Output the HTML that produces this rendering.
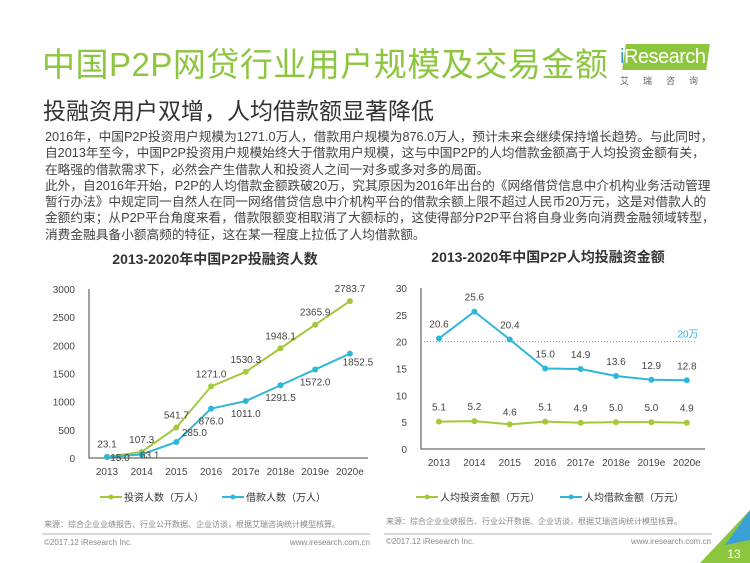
<!DOCTYPE html>
<html><head><meta charset="utf-8">
<style>
body{margin:0;width:750px;height:563px;background:#fff;overflow:hidden;position:relative;font-family:"Liberation Sans","Noto Sans CJK SC",sans-serif;}
.abs{position:absolute;}
#title{left:42px;top:38px;font-size:33px;color:#8cc63f;letter-spacing:0.5px;white-space:nowrap;}
#sub{left:43px;top:92px;font-size:23px;color:#333;white-space:nowrap;}
#body{left:45px;top:129px;width:672px;font-size:12.7px;line-height:16.3px;color:#444;}
#body p{margin:0;}
</style></head><body>
<div id="title" class="abs">中国P2P网贷行业用户规模及交易金额</div>
<div class="abs" style="left:618px;top:44px;width:90px;height:26px;">
 <div style="position:absolute;left:6px;top:0;width:84px;height:26px;background:#8cc63f;transform:skewX(-8deg);"></div>
 <div style="position:absolute;left:2px;top:2px;font-size:20px;color:#fff;letter-spacing:-0.5px;"><span style="color:#3aa0d5">i</span>Research</div>
 <div style="position:absolute;left:2px;top:30px;font-size:9px;color:#666;letter-spacing:14px;white-space:nowrap;">艾瑞咨询</div>
</div>
<div id="sub" class="abs">投融资用户双增，人均借款额显著降低</div>
<div id="body" class="abs">
<p>2016年，中国P2P投资用户规模为1271.0万人，借款用户规模为876.0万人，预计未来会继续保持增长趋势。与此同时，自2013年至今，中国P2P投资用户规模始终大于借款用户规模，这与中国P2P的人均借款金额高于人均投资金额有关，在略强的借款需求下，必然会产生借款人和投资人之间一对多或多对多的局面。</p>
<p>此外，自2016年开始，P2P的人均借款金额跌破20万，究其原因为2016年出台的《网络借贷信息中介机构业务活动管理暂行办法》中规定同一自然人在同一网络借贷信息中介机构平台的借款余额上限不超过人民币20万元，这是对借款人的金额约束；从P2P平台角度来看，借款限额变相取消了大额标的，这使得部分P2P平台将自身业务向消费金融领域转型，消费金融具备小额高频的特征，这在某一程度上拉低了人均借款额。</p>
</div>

<svg class="abs" style="left:0;top:0" width="750" height="563" font-family="Liberation Sans, Noto Sans CJK SC, sans-serif">
 <g id="c1"></g>
 <g id="c2"></g>
 <text x="215" y="264" text-anchor="middle" font-size="14" font-weight="bold" fill="#333">2013-2020年中国P2P投融资人数</text>
 <text x="548" y="262" text-anchor="middle" font-size="14" font-weight="bold" fill="#333">2013-2020年中国P2P人均投融资金额</text>
 <text x="44" y="527" font-size="8" fill="#888">来源：综合企业业绩报告、行业公开数据、企业访谈，根据艾瑞咨询统计模型核算。</text>
 <line x1="42" y1="534" x2="370" y2="534" stroke="#999" stroke-width="0.8"/>
 <text x="44" y="545" font-size="8" fill="#888">©2017.12 iResearch Inc.</text>
 <text x="370" y="545" font-size="8" fill="#888" text-anchor="end">www.iresearch.com.cn</text>
 <text x="386" y="524" font-size="8" fill="#888">来源：综合企业业绩报告、行业公开数据、企业访谈，根据艾瑞咨询统计模型核算。</text>
 <line x1="384" y1="534" x2="712" y2="534" stroke="#999" stroke-width="0.8"/>
 <text x="386" y="544" font-size="8" fill="#888">©2017.12 iResearch Inc.</text>
 <text x="711" y="544" font-size="8" fill="#888" text-anchor="end">www.iresearch.com.cn</text>
 <polygon points="750,510 750,563 700,563" fill="#8cc63f"/>
 <polygon points="750,510 750,540 725,545" fill="#3aa0d5"/>
 <text x="734" y="558" font-size="12" fill="#fff" text-anchor="middle">13</text>
</svg>

<script>
const years=["2013","2014","2015","2016","2017e","2018e","2019e","2020e"];
const investors=[23.1,107.3,541.7,1271.0,1530.3,1948.1,2365.9,2783.7];
const borrowers=[15.0,63.1,285.0,876.0,1011.0,1291.5,1572.0,1852.5];
const ticks1=[0,500,1000,1500,2000,2500,3000];
const avgInvest=[5.1,5.2,4.6,5.1,4.9,5.0,5.0,4.9];
const avgBorrow=[20.6,25.6,20.4,15.0,14.9,13.6,12.9,12.8];
const ticks2=[0,5,10,15,20,25,30];
const limitValue=20;
const GREEN="#a5c83a",BLUE="#2fb7d9";
const NS="http://www.w3.org/2000/svg";
function mk(p,tag,a){const e=document.createElementNS(NS,tag);for(const k in a)e.setAttribute(k,a[k]);p.appendChild(e);return e;}
function chart(g,o){
 const xs=i=>o.x0+i*o.step, ys=v=>o.y0-(v/o.max)*o.h;
 let ax=mk(g,'path',{d:`M${o.ax},${ys(o.max)}V${o.y0}H${o.axEnd}`,stroke:'#444',fill:'none','stroke-width':1});
 
 
 o.ticks.forEach(t=>{const e=mk(g,'text',{x:o.ax-14,y:ys(t)+4,'text-anchor':'end','font-size':10,fill:'#444'});e.textContent=t;
  
  });
 years.forEach((y,i)=>{const e=mk(g,'text',{x:xs(i),y:o.y0+17,'text-anchor':'middle','font-size':10,fill:'#444'});e.textContent=y;
  
  });
 if(o.extra)o.extra(xs,ys);
 o.series.forEach(s=>{
  const l=mk(g,'polyline',{points:s.v.map((v,i)=>xs(i)+','+ys(v)).join(' '),fill:'none',stroke:s.c,'stroke-width':2});
  
  
  s.v.forEach((v,i)=>{const c=mk(g,'circle',{cx:xs(i),cy:ys(v),r:3,fill:s.c});
   
   
   const t=mk(g,'text',{x:xs(i)+(s.dx?s.dx[i]:0),y:ys(v)+(s.dy[i]),'text-anchor':'middle','font-size':10,fill:'#444'});t.textContent=v.toFixed(1);
   
   });
 });
 o.legend.forEach((L,k)=>{const lx=o.lx[k],ly=497;
  const ln=mk(g,'line',{x1:lx,y1:ly,x2:lx+22,y2:ly,stroke:L.c,'stroke-width':2});
  
  
  mk(g,'circle',{cx:lx+11,cy:ly,r:2.5,fill:L.c});
  const t=mk(g,'text',{x:lx+24,y:ly+4,'font-size':10,fill:'#333'});t.textContent=L.t;
  
  });
}
chart(document.getElementById('c1'),{x0:107,step:34.7,y0:458,h:169,max:3000,ax:89,axEnd:368,ticks:ticks1,
 series:[{name:'investors',v:investors,c:GREEN,dy:[-9,-9,-9,-9,-9,-9,-9,-9],dx:[0,0,0,0,0,0,0,0]},
         {name:'borrowers',v:borrowers,c:BLUE,dy:[4,4,-6,16,16,16,16,12],dx:[13,8,18,0,0,0,0,8]}],
 legend:[{t:'投资人数（万人）',c:GREEN},{t:'借款人数（万人）',c:BLUE}],lx:[100,222]});
chart(document.getElementById('c2'),{x0:439,step:35.4,y0:449,h:161,max:30,ax:421,axEnd:705,ticks:ticks2,
 extra:(xs,ys)=>{const l=mk(document.getElementById('c2'),'line',{x1:421,x2:695,y1:ys(limitValue),y2:ys(limitValue),stroke:'#2fb7d9','stroke-width':1,'stroke-dasharray':'1,2'});
   
   
   const t=mk(document.getElementById('c2'),'text',{x:688,y:ys(limitValue)-4,'text-anchor':'middle','font-size':10,fill:'#2fb7d9'});t.textContent='20万';
   
   },
 series:[{name:'avg-invest',v:avgInvest,c:GREEN,dy:[-11,-11,-9,-11,-11,-11,-11,-11]},
         {name:'avg-borrow',v:avgBorrow,c:BLUE,dy:[-11,-11,-11,-11,-11,-11,-11,-11]}],
 legend:[{t:'人均投资金额（万元）',c:GREEN},{t:'人均借款金额（万元）',c:BLUE}],lx:[416,560]});
</script>
</body></html>
